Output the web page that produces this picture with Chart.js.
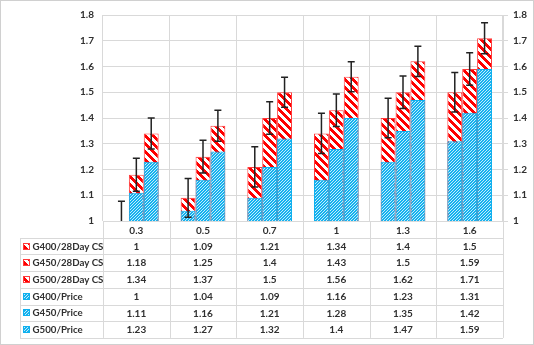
<!DOCTYPE html>
<html>
<head>
<meta charset="utf-8">
<script src="https://cdn.jsdelivr.net/npm/chart.js@4.4.1/dist/chart.umd.min.js"></script>
<style>
    html, body { margin: 0; padding: 0; background: #ffffff; }
    #wrap { width: 534px; height: 345px; }
</style>
</head>
<body>
<div id="wrap"><canvas id="chart" width="534" height="345"></canvas></div>
<script>
// Categories and series
const labels = ['0.3', '0.5', '0.7', '1', '1.3', '1.6'];

const cs400 = [1, 1.09, 1.21, 1.34, 1.4, 1.5];
const cs450 = [1.18, 1.25, 1.4, 1.43, 1.5, 1.59];
const cs500 = [1.34, 1.37, 1.5, 1.56, 1.62, 1.71];
const price400 = [1, 1.04, 1.09, 1.16, 1.23, 1.31];
const price450 = [1.11, 1.16, 1.21, 1.28, 1.35, 1.42];
const price500 = [1.23, 1.27, 1.32, 1.4, 1.47, 1.59];

// Error bar half-lengths for the 28 day CS series
const err400 = [0.077, 0.075, 0.078, 0.078, 0.077, 0.077];
const err450 = [0.064, 0.064, 0.063, 0.063, 0.063, 0.063];
const err500 = [0.06, 0.06, 0.058, 0.058, 0.059, 0.06];

const yTicks = ['1', '1.1', '1.2', '1.3', '1.4', '1.5', '1.6', '1.7', '1.8'];

const TEXT = '#303030';
const GRID = '#d9d9d9';
const FONT = 'Lato, "Liberation Sans", sans-serif';

// Hatch fills
function makeStripes() {
    const c = document.createElement('canvas');
    c.width = 8; c.height = 8;
    const g = c.getContext('2d');
    g.fillStyle = '#ffffff';
    g.fillRect(0, 0, 8, 8);
    g.fillStyle = '#ff0000';
    for (let y = 0; y < 8; y++) {
        for (let x = 0; x < 8; x++) {
            if (((x - y) % 8 + 8) % 8 < 4) g.fillRect(x, y, 1, 1);
        }
    }
    return g.createPattern(c, 'repeat');
}

function makeFine() {
    const c = document.createElement('canvas');
    c.width = 3; c.height = 3;
    const g = c.getContext('2d');
    g.fillStyle = '#14b2ef';
    g.fillRect(0, 0, 3, 3);
    g.fillStyle = '#c4ebfb';
    for (let y = 0; y < 3; y++) {
        for (let x = 0; x < 3; x++) {
            if ((x + y) % 3 === 0) g.fillRect(x, y, 1, 1);
        }
    }
    return g.createPattern(c, 'repeat');
}

const redFill = makeStripes();
const blueFill = makeFine();

function csSet(label, data, stack, err) {
    return {
        label: label, data: data, stack: stack, err: err,
        backgroundColor: redFill, borderColor: '#ff3b3b', borderWidth: 1,
        order: 2
    };
}
function priceSet(label, data, stack) {
    return {
        label: label, data: data, stack: stack,
        backgroundColor: blueFill, borderColor: '#0fb0ee', borderWidth: 1,
        order: 1
    };
}

const datasets = [
    csSet('G400/28Day CS', cs400, 'G400', err400),
    csSet('G450/28Day CS', cs450, 'G450', err450),
    csSet('G500/28Day CS', cs500, 'G500', err500),
    priceSet('G400/Price', price400, 'G400'),
    priceSet('G450/Price', price450, 'G450'),
    priceSet('G500/Price', price500, 'G500')
];

// Error bars on top of the CS columns
const errorBars = {
    id: 'errorBars',
    afterDatasetsDraw(chart) {
        const ctx = chart.ctx;
        const a = chart.chartArea;
        const y = chart.scales.y;
        ctx.save();
        ctx.beginPath();
        ctx.rect(a.left, a.top - 20, a.right - a.left, a.bottom - a.top + 20);
        ctx.clip();
        ctx.strokeStyle = '#222222';
        ctx.lineWidth = 1.5;
        chart.data.datasets.forEach((ds, i) => {
            if (!ds.err) return;
            chart.getDatasetMeta(i).data.forEach((bar, j) => {
                const top = y.getPixelForValue(ds.data[j] + ds.err[j]);
                const bot = y.getPixelForValue(ds.data[j] - ds.err[j]);
                ctx.beginPath();
                ctx.moveTo(bar.x, top);
                ctx.lineTo(bar.x, bot);
                ctx.moveTo(bar.x - 3.5, top);
                ctx.lineTo(bar.x + 3.5, top);
                ctx.moveTo(bar.x - 3.5, bot);
                ctx.lineTo(bar.x + 3.5, bot);
                ctx.stroke();
            });
        });
        ctx.restore();
    }
};

// Data table under the plot plus the outer frame
const dataTable = {
    id: 'dataTable',
    afterDraw(chart) {
        const ctx = chart.ctx;
        const a = chart.chartArea;
        const x = chart.scales.x;
        const rowH = 16.7;
        const tableLeft = 20;
        const nRows = chart.data.datasets.length;
        const bottom = a.bottom + rowH * (nRows + 1);

        ctx.save();
        ctx.strokeStyle = GRID;
        ctx.lineWidth = 1;

        // horizontal rules
        for (let r = 1; r <= nRows + 1; r++) {
            const yy = Math.round(a.bottom + rowH * r) + 0.5;
            ctx.beginPath();
            ctx.moveTo(tableLeft, yy);
            ctx.lineTo(a.right, yy);
            ctx.stroke();
        }
        // vertical rules
        const step = (a.right - a.left) / labels.length;
        for (let c = 0; c <= labels.length; c++) {
            const xx = Math.round(a.left + step * c) + 0.5;
            ctx.beginPath();
            ctx.moveTo(xx, a.bottom);
            ctx.lineTo(xx, bottom);
            ctx.stroke();
        }
        ctx.beginPath();
        ctx.moveTo(tableLeft + 0.5, Math.round(a.bottom + rowH) + 0.5);
        ctx.lineTo(tableLeft + 0.5, Math.round(bottom) + 0.5);
        ctx.stroke();

        ctx.fillStyle = TEXT;
        ctx.font = 'bold 10px ' + FONT;
        ctx.textBaseline = 'middle';
        ctx.textAlign = 'center';
        labels.forEach((lab, i) => {
            ctx.fillText(lab, x.getPixelForValue(i), a.bottom + rowH * 0.5 + 1);
        });

        chart.data.datasets.forEach((ds, r) => {
            const cy = a.bottom + rowH * (r + 1.5) + 0.5;
            // legend key
            ctx.fillStyle = ds.backgroundColor;
            ctx.fillRect(23, Math.round(cy) - 4, 7, 7);
            ctx.strokeStyle = ds.borderColor;
            ctx.strokeRect(23.5, Math.round(cy) - 3.5, 6, 6);

            ctx.fillStyle = TEXT;
            ctx.textAlign = 'left';
            ctx.font = 'bold 9.7px ' + FONT;
            ctx.fillText(ds.label, 32.5, cy);
            ctx.font = 'bold 10px ' + FONT;
            ctx.textAlign = 'center';
            ds.data.forEach((v, i) => {
                ctx.fillText(String(v), x.getPixelForValue(i), cy);
            });
        });

        // outer frame
        ctx.strokeStyle = '#d0d0d0';
        ctx.strokeRect(0.5, 0.5, chart.width - 1, chart.height - 1);
        ctx.restore();
    }
};

const tickFont = { family: FONT, size: 10, weight: 'bold' };
const tickLabel = v => yTicks[Math.round((v - 1) * 10)];

new Chart(document.getElementById('chart'), {
    type: 'bar',
    data: { labels: labels, datasets: datasets },
    options: {
        responsive: false,
        animation: false,
        events: [],
        barPercentage: 1,
        categoryPercentage: 0.67,
        layout: { padding: { top: 13, left: 0, right: 0, bottom: 0 } },
        plugins: {
            legend: { display: false },
            tooltip: { enabled: false }
        },
        scales: {
            x: {
                grid: { color: GRID, drawTicks: false },
                border: { display: false },
                ticks: { display: false },
                afterFit: s => { s.height = 124; }
            },
            y: {
                position: 'left',
                min: 1, max: 1.8,
                stacked: false,
                grid: { color: GRID, drawTicks: false },
                border: { display: false },
                ticks: { stepSize: 0.1, color: TEXT, font: tickFont, padding: 9, callback: tickLabel },
                afterFit: s => { s.width = 103; }
            },
            y2: {
                position: 'right',
                min: 1, max: 1.8,
                stacked: false,
                grid: { drawOnChartArea: false, color: GRID, tickLength: 5 },
                border: { color: GRID },
                ticks: { stepSize: 0.1, color: TEXT, font: tickFont, padding: 5, callback: tickLabel },
                afterFit: s => { s.width = 31; }
            }
        }
    },
    plugins: [errorBars, dataTable]
});
</script>
</body>
</html>
